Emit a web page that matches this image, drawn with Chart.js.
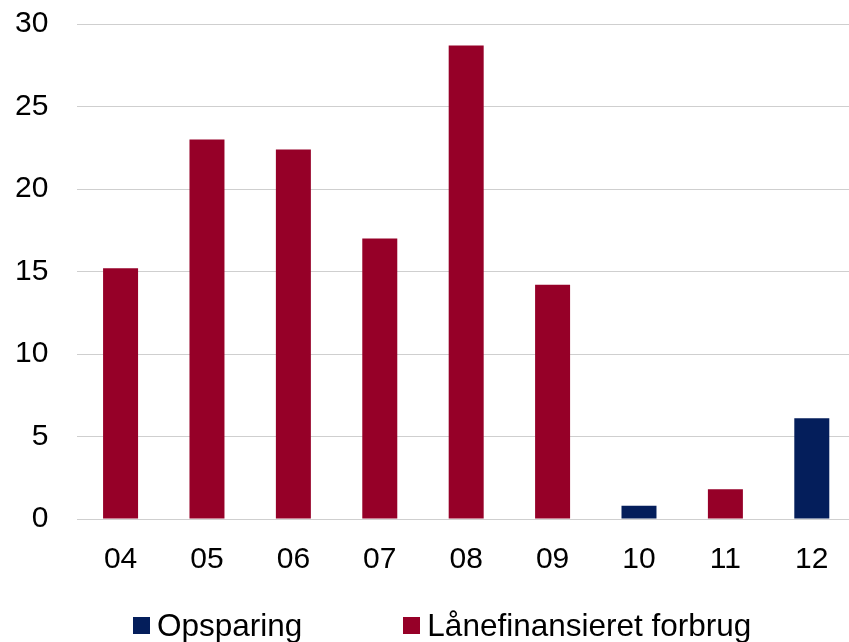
<!DOCTYPE html>
<html>
<head>
<meta charset="utf-8">
<script src="https://cdn.jsdelivr.net/npm/chart.js@4/dist/chart.umd.min.js"></script>
<style>
  html, body { margin: 0; padding: 0; background: #fff; overflow: hidden; }
  #wrap { position: relative; width: 856px; height: 642px; }
  #grafik { display: block; }
  #legend {
    position: absolute; left: 133px; top: 608px;
    font-family: "Liberation Sans", Arial, sans-serif; font-size: 31.5px; line-height: 34px; color: #000;
    display: flex; align-items: center; white-space: nowrap;
  }
  #legend .item { display: flex; align-items: center; }
  #legend .box { width: 17px; height: 17px; margin-right: 7px; }
</style>
</head>
<body>
<div id="wrap">
  <canvas id="grafik" width="856" height="642"></canvas>
  <div id="legend"></div>
</div>
<script>
// data
const aar = ['04', '05', '06', '07', '08', '09', '10', '11', '12'];
const opsparing = [null, null, null, null, null, null, 0.8, null, 6.1];
const laanefinansieret = [15.2, 23.0, 22.4, 17.0, 28.7, 14.2, null, 1.8, null];
const yTicks = [0, 5, 10, 15, 20, 25, 30];

const navy = '#041e5b';
const roed = '#960028';

const ctx = document.getElementById('grafik').getContext('2d');
Chart.defaults.font.family = '"Liberation Sans", Arial, sans-serif';
Chart.defaults.color = '#000';

const grafik = new Chart(ctx, {
    type: 'bar',
    data: {
        labels: aar,
        datasets: [
            { label: 'Opsparing', data: opsparing, backgroundColor: navy },
            { label: 'Lånefinansieret forbrug', data: laanefinansieret, backgroundColor: roed }
        ]
    },
    options: {
        responsive: false,
        animation: false,
        devicePixelRatio: 1,
        layout: { padding: { left: -14, top: 24, right: 1, bottom: 49 } },
        datasets: { bar: { categoryPercentage: 1, barPercentage: 0.405 } },
        scales: {
            x: {
                stacked: true,
                grid: { display: false },
                border: { display: false },
                ticks: { font: { size: 30 }, padding: 15, color: '#000' }
            },
            y: {
                stacked: true,
                min: 0, max: 30,
                afterBuildTicks: (axis) => { axis.ticks = yTicks.map(v => ({ value: v })); },
                // tick-padding skal ikke skubbe plottet ned
                afterFit: (axis) => { axis.paddingTop = 0; axis.paddingBottom = 0; },
                grid: { color: '#cfcfcf', lineWidth: 1, drawTicks: false },
                border: { display: false },
                ticks: { font: { size: 30 }, padding: 29, color: '#000' }
            }
        },
        plugins: {
            legend: { display: false },
            tooltip: { enabled: false }
        }
    }
});

// HTML-legende
const legendEl = document.getElementById('legend');
grafik.data.datasets.forEach((ds, i) => {
    const item = document.createElement('div');
    item.className = 'item';
    if (i > 0) item.style.marginLeft = '101px';
    const box = document.createElement('span');
    box.className = 'box';
    box.style.background = ds.backgroundColor;
    const txt = document.createElement('span');
    txt.textContent = ds.label;
    item.appendChild(box);
    item.appendChild(txt);
    legendEl.appendChild(item);
});
</script>
</body>
</html>
